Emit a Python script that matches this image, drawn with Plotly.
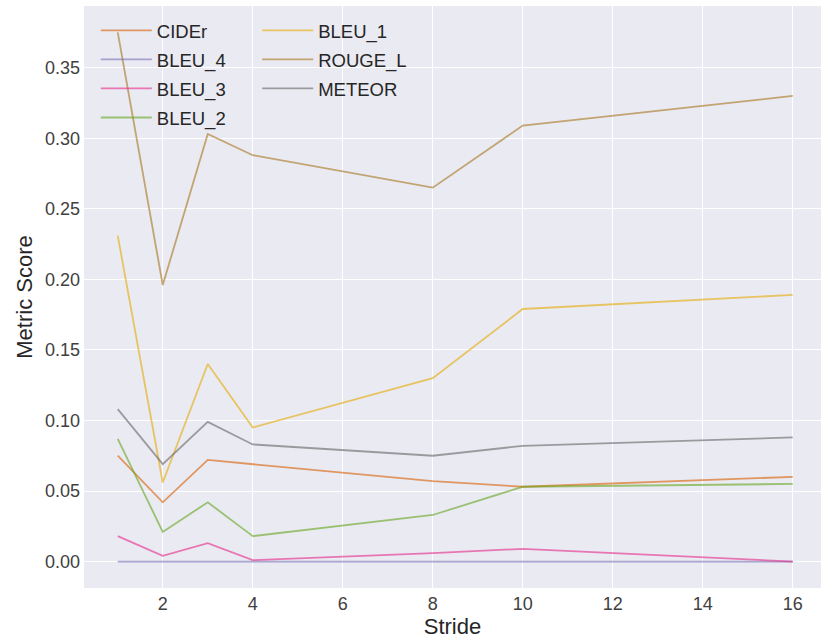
import plotly.graph_objects as go

# Evaluation metrics against frame stride
stride = [1, 2, 3, 4, 8, 10, 16]

cider = [0.075, 0.042, 0.072, 0.069, 0.057, 0.053, 0.060]
bleu_4 = [0.0, 0.0, 0.0, 0.0, 0.0, 0.0, 0.0]
bleu_3 = [0.018, 0.004, 0.013, 0.001, 0.006, 0.009, 0.000]
bleu_2 = [0.087, 0.021, 0.042, 0.018, 0.033, 0.053, 0.055]
bleu_1 = [0.231, 0.056, 0.140, 0.095, 0.130, 0.179, 0.189]
rouge_l = [0.375, 0.196, 0.303, 0.288, 0.265, 0.309, 0.330]
meteor = [0.108, 0.069, 0.099, 0.083, 0.075, 0.082, 0.088]

y_ticks = [0.0, 0.05, 0.10, 0.15, 0.20, 0.25, 0.30, 0.35]
x_ticks = [2, 4, 6, 8, 10, 12, 14, 16]

series = [
    ("CIDEr", cider, "#d95f02", "legend"),
    ("BLEU_4", bleu_4, "#7570b3", "legend"),
    ("BLEU_3", bleu_3, "#e7298a", "legend"),
    ("BLEU_2", bleu_2, "#66a61e", "legend"),
    ("BLEU_1", bleu_1, "#e6ab02", "legend2"),
    ("ROUGE_L", rouge_l, "#a6761d", "legend2"),
    ("METEOR", meteor, "#666666", "legend2"),
]

FONT = "Liberation Sans, Arial, sans-serif"

fig = go.Figure()
for name, vals, color, leg in series:
    fig.add_trace(go.Scatter(
        x=stride, y=vals, mode="lines", name=name, legendgroup=name,
        line=dict(color=color, width=1.8), opacity=0.6, legend=leg,
    ))

legend_style = dict(
    bgcolor="rgba(0,0,0,0)", borderwidth=0,
    font=dict(family=FONT, size=18.5, color="#262626"),
    tracegroupgap=2, itemwidth=51, yanchor="top", xanchor="left",
)

fig.update_layout(
    width=821, height=639,
    margin=dict(l=84, r=0, t=6, b=51),
    paper_bgcolor="white",
    plot_bgcolor="#eaeaf2",
    font=dict(family=FONT, color="#262626"),
    legend=dict(x=0.016, y=0.99, **legend_style),
    legend2=dict(x=0.235, y=0.99, **legend_style),
    xaxis=dict(
        title=dict(text="Stride", font=dict(size=22), standoff=2),
        range=[0.25, 16.628], tickvals=x_ticks,
        tickfont=dict(size=18, color="#404040"),
        showgrid=True, gridcolor="white", gridwidth=1.3,
        zeroline=False, showline=False, ticks="", ticklabelstandoff=3,
    ),
    yaxis=dict(
        title=dict(text="Metric Score", font=dict(size=22), standoff=6),
        range=[-0.01875, 0.39375], tickvals=y_ticks,
        ticktext=[f"{v:.2f}" for v in y_ticks],
        tickfont=dict(size=18, color="#404040"),
        showgrid=True, gridcolor="white", gridwidth=1.3,
        zeroline=False, showline=False, ticks="", ticklabelstandoff=3,
    ),
)

fig.write_html("out.html")
